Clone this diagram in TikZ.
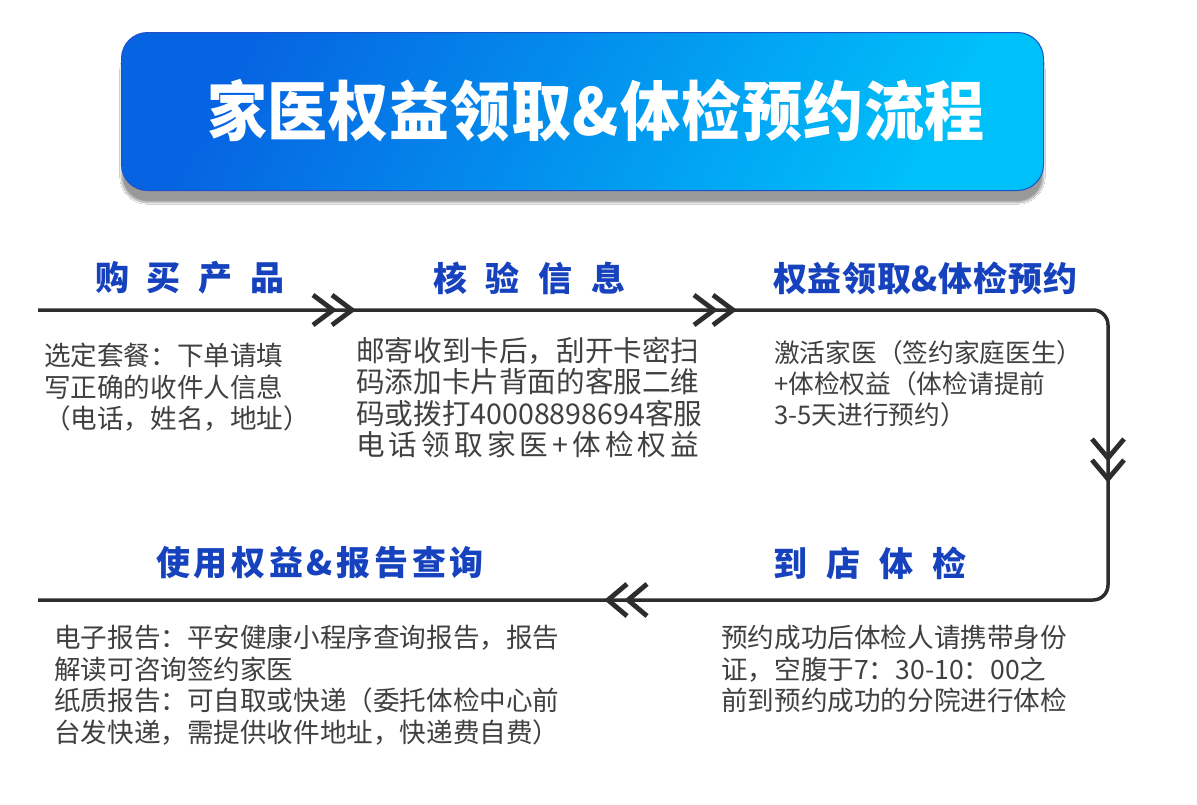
\documentclass[tikz,border=0pt]{standalone}
\usepackage{fontspec}
\usepackage{graphicx}
\usetikzlibrary{shadows.blur}
\newfontfamily\cjk{Noto Sans CJK SC}
\definecolor{headblue}{RGB}{22,66,190}
\definecolor{bodygrey}{RGB}{64,64,64}
\definecolor{linegrey}{RGB}{45,45,45}
\definecolor{gradA}{RGB}{6,100,226}
\definecolor{gradB}{RGB}{0,192,250}
\definecolor{boxedge}{RGB}{30,80,200}
\begin{document}
\begin{tikzpicture}[x=1pt,y=-1pt,
  flowline/.style={draw=linegrey,line width=3.5pt,rounded corners=15pt},
  chev/.style={draw=linegrey,line width=4.8pt,line cap=butt,line join=miter},
  heading/.style={inner sep=0pt,text=headblue,font=\cjk\bfseries\fontsize{34}{40}\selectfont},
  body/.style={inner sep=0pt,anchor=north west,align=left,text=bodygrey,font=\cjk\fontsize{26.6}{31.5}\selectfont},
  titlebox/.style={draw=boxedge,line width=1pt,rounded corners=26pt,top color=gradA,bottom color=gradB,shading angle=60,
     blur shadow={shadow xshift=0pt,shadow yshift=-12pt,shadow blur steps=14,shadow opacity=40}}
]
\useasboundingbox[fill=white] (0,0) rectangle (1197,804);
% title
\node[titlebox,minimum width=922pt,minimum height=158pt,anchor=north west] (title) at (121,32) {};
\node[inner sep=0pt,text=white,font=\cjk\bfseries\fontsize{60}{66}\selectfont] (titletext) at (596,111)
  {\scalebox{1}[1.08]{\makebox[778pt][s]{家\hfill 医\hfill 权\hfill 益\hfill 领\hfill 取\hfill \&\hfill 体\hfill 检\hfill 预\hfill 约\hfill 流\hfill 程}}};
% flow path
\coordinate (start) at (38,310);
\coordinate (tr) at (1108,310);
\coordinate (br) at (1108,600);
\coordinate (end) at (38,600);
\draw[flowline] (start) -- (tr) -- (br) -- (end);
% chevrons
\coordinate (c1) at (333,310);
\coordinate (c2) at (352,310);
\coordinate (c3) at (714,310);
\coordinate (c4) at (733,310);
\coordinate (c5) at (1108,458);
\coordinate (c6) at (1108,479);
\coordinate (c7) at (608,600);
\coordinate (c8) at (628,600);
\foreach \c in {c1,c2,c3,c4}{\draw[chev] ([shift={(-20,-15)}]\c) -- (\c) -- ([shift={(-20,15)}]\c);}
\foreach \c in {c5,c6}{\draw[chev] ([shift={(-16,-19)}]\c) -- (\c) -- ([shift={(16,-19)}]\c);}
\foreach \c in {c7,c8}{\draw[chev] ([shift={(19,-16)}]\c) -- (\c) -- ([shift={(19,16)}]\c);}
% headings
\node[heading] (h1) at (190,278) {\makebox[190pt][s]{购\hfill 买\hfill 产\hfill 品}};
\node[heading] (h2) at (529,278) {\makebox[192pt][s]{核\hfill 验\hfill 信\hfill 息}};
\node[heading] (h3) at (925,278) {\makebox[304pt][s]{权\hfill 益\hfill 领\hfill 取\hfill \&\hfill 体\hfill 检\hfill 预\hfill 约}};
\node[heading] (h4) at (870,563) {\makebox[194pt][s]{到\hfill 店\hfill 体\hfill 检}};
\node[heading] (h5) at (320,563) {\makebox[328pt][s]{使\hfill 用\hfill 权\hfill 益\hfill \&\hfill 报\hfill 告\hfill 查\hfill 询}};
% body texts
\node[body] (t1) at (44,343) {选定套餐：下单请填\\写正确的收件人信息\\（电话，姓名，地址）};
\node[body,font=\cjk\fontsize{28.6}{31.3}\selectfont] (t2) at (356,337) {邮寄收到卡后，刮开卡密扫\\码添加卡片背面的客服二维\\码或拨打40008898694客服\\\makebox[343pt][s]{电\hfill 话\hfill 领\hfill 取\hfill 家\hfill 医\hfill +\hfill 体\hfill 检\hfill 权\hfill 益}};
\node[body,font=\cjk\fontsize{25.7}{31}\selectfont] (t3) at (774,340) {激活家医（签约家庭医生）\\+体检权益（体检请提前\\3-5天进行预约）};
\node[body] (t4) at (721,625) {预约成功后体检人请携带身份\\证，空腹于7：30-10：00之\\前到预约成功的分院进行体检};
\node[body] (t5) at (54,625) {电子报告：平安健康小程序查询报告，报告\\解读可咨询签约家医\\纸质报告：可自取或快递（委托体检中心前\\台发快递，需提供收件地址，快递费自费）};
\end{tikzpicture}
\end{document}
